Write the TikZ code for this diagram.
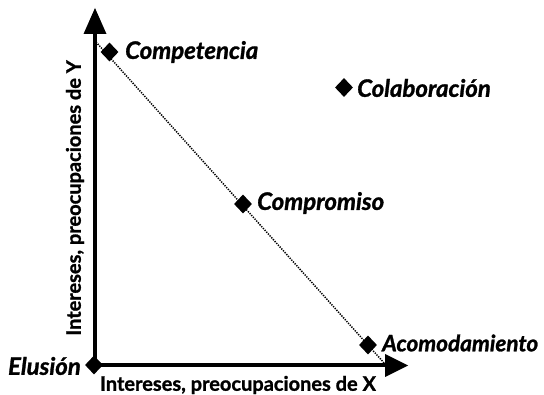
\documentclass[tikz,border=0pt]{standalone}
\usepackage{fontspec}
\setmainfont{Lato}[BoldFeatures={FakeBold=1.2},BoldItalicFeatures={FakeBold=1.2}]
\usetikzlibrary{shapes.geometric}
\begin{document}
\begin{tikzpicture}[x=1pt,y=-1pt,
  axis/.style={line width=4.3pt},
  tip/.style={fill=black},
  dia/.style={diamond,fill=black,inner sep=0pt,minimum width=18pt,minimum height=19pt},
  lab/.style={font=\bfseries\itshape\fontsize{24}{26}\selectfont,inner sep=0pt,anchor=west},
  axlab/.style={font=\bfseries\fontsize{20}{22}\selectfont,inner sep=0pt}]
\useasboundingbox (0,0) rectangle (544,395);
\coordinate (O) at (95,365);
\coordinate (Ytop) at (95,32);
\coordinate (Xend) at (388,365);
\draw[axis] (O) -- (Ytop);
\draw[axis] (O) -- (Xend);
\fill[tip] (95,8) -- (83.5,34) -- (106.5,34) -- cycle;
\fill[tip] (408,365.5) -- (385,354) -- (385,377) -- cycle;
\coordinate (d1) at (96,42);
\coordinate (d2) at (385,364);
\draw[line width=1.5pt,dash pattern=on 1.3pt off 1.2pt] (d1) -- (d2);
\node[dia] (comp) at (109.5,52) {};
\node[dia] (colab) at (344,87.5) {};
\node[dia] (compro) at (243,204) {};
\node[dia] (acom) at (368,345) {};
\node[dia] (elus) at (94,365) {};
\node[lab] (tcomp) at (125,52) {Competencia};
\node[lab] (tcolab) at (357,88) {Colaboración};
\node[lab] (tcompro) at (257,203) {Compromiso};
\node[lab,transform shape,scale=0.94] (tacom) at (382,343) {Acomodamiento};
\node[lab,anchor=east] (telus) at (81,366) {Elusión};
\node[axlab] (xl) at (238,385) {Intereses, preocupaciones de X};
\node[axlab,rotate=90] (yl) at (75,198) {Intereses, preocupaciones de Y};
\end{tikzpicture}
\end{document}
